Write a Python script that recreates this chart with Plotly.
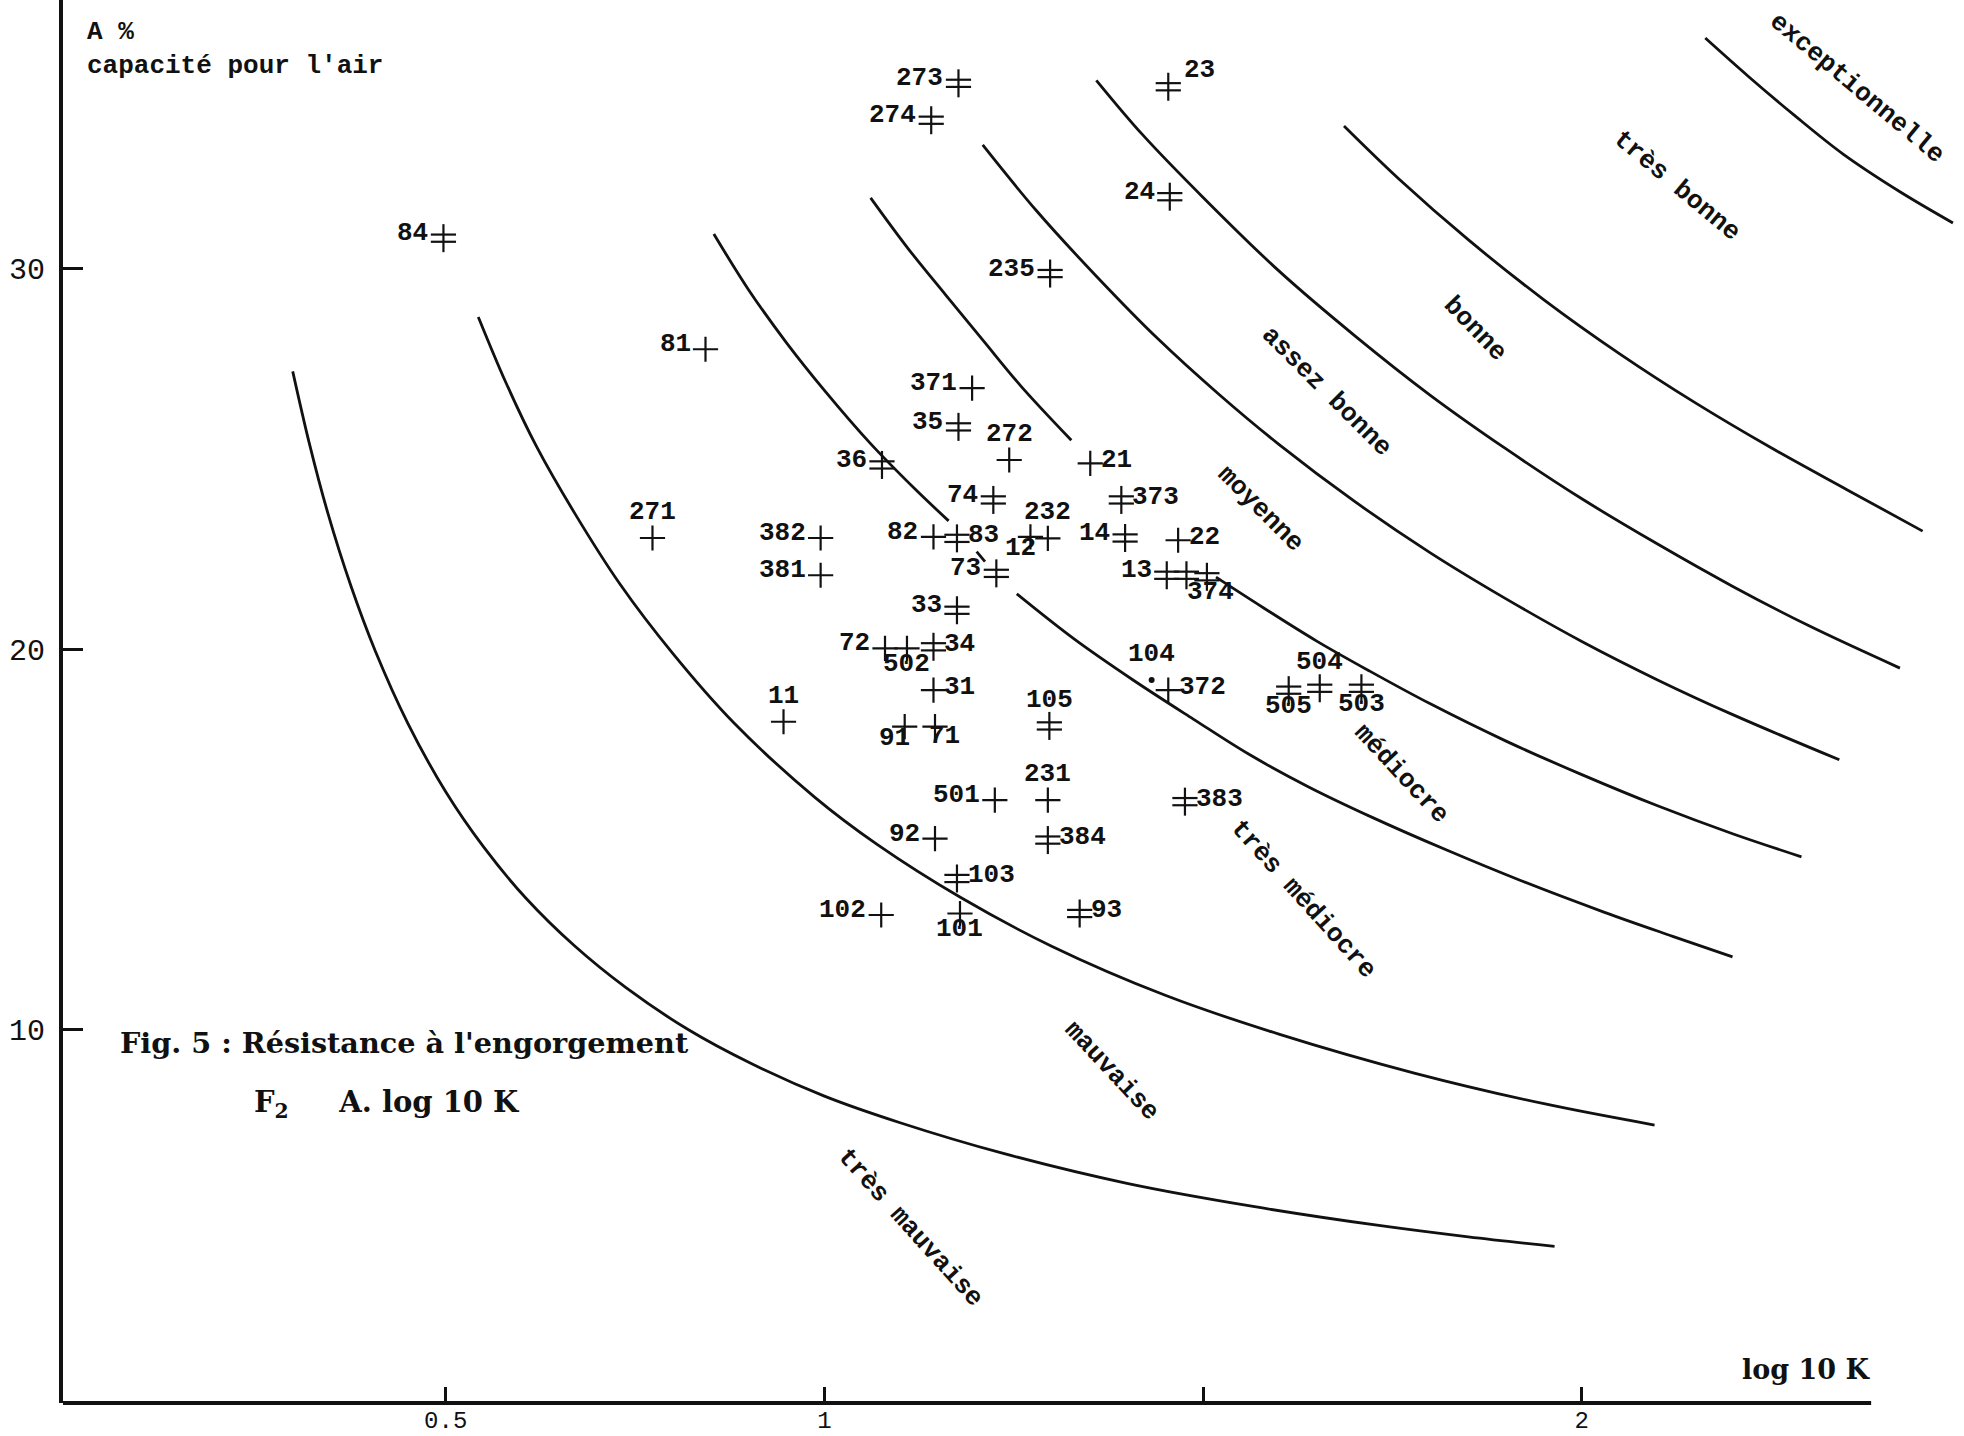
import plotly.graph_objects as go

# ---------------- data ----------------
point_ids = ["273", "274", "23", "24", "84", "235", "81", "371", "35", "272",
             "36", "21", "74", "373", "271", "382", "381", "82", "83", "232",
             "12", "14", "22", "13", "", "374", "73", "33", "72", "502",
             "34", "31", "104", "372", "505", "504", "503", "105", "11", "91",
             "71", "501", "231", "383", "92", "384", "103", "102", "101", "93"]
log10k = [1.177, 1.141, 1.454, 1.456, 0.497, 1.298, 0.843, 1.195, 1.177, 1.244,
          1.076, 1.351, 1.223, 1.392, 0.773, 0.995, 0.995, 1.144, 1.175, 1.295,
          1.272, 1.397, 1.467, 1.452, 1.478, 1.505, 1.227, 1.175, 1.080, 1.109,
          1.144, 1.144, 1.432, 1.454, 1.613, 1.654, 1.709, 1.297, 0.946, 1.106,
          1.146, 1.225, 1.295, 1.476, 1.146, 1.295, 1.175, 1.075, 1.179, 1.337]
a_pct = [34.87, 33.90, 34.78, 31.89, 30.80, 29.87, 27.88, 26.86, 25.84, 24.97,
         24.84, 24.88, 23.92, 23.92, 22.92, 22.92, 21.94, 22.95, 22.91, 22.91,
         22.95, 22.92, 22.86, 21.94, 21.94, 21.90, 21.99, 21.02, 20.02, 20.02,
         20.06, 18.92, 19.19, 18.92, 18.92, 18.97, 18.97, 17.98, 18.09, 17.96,
         17.96, 16.03, 16.03, 15.99, 15.02, 14.98, 13.97, 13.01, 13.05, 13.05]
# d = double-barred cross, s = simple cross, o = dot
marker_kind = ["d", "d", "d", "d", "d", "d", "s", "s", "d", "s",
               "d", "s", "d", "d", "s", "s", "s", "s", "d", "s",
               "s", "d", "s", "d", "d", "d", "d", "d", "s", "s",
               "d", "s", "o", "s", "d", "d", "d", "d", "s", "s",
               "s", "s", "s", "d", "s", "d", "d", "s", "s", "d"]

# iso-lines (A x log10K); None = gap in the drawing
curve_a_x = [0.298, 0.32, 0.344, 0.375, 0.407, 0.45, 0.5, 0.55, 0.606, 0.67, 0.738,
             0.82, 0.904, 1.0, 1.1, 1.235, 1.401, 1.566, 1.732, 1.85, 1.964]
curve_a_y = [27.3, 25.4, 23.6, 21.65, 19.95, 18.05, 16.25, 14.8, 13.45, 12.2, 11.1,
             10.0, 9.1, 8.25, 7.55, 6.75, 5.95, 5.35, 4.85, 4.55, 4.3]
curve_b_x = [0.543, 0.58, 0.62, 0.67, 0.73, 0.8, 0.88, 0.987, 1.07, 1.18, 1.3,
             1.45, 1.6, 1.78, 1.95, 2.096]
curve_b_y = [28.73, 26.98, 25.32, 23.58, 21.71, 19.88, 18.07, 16.11, 14.86, 13.47, 12.19,
             10.9, 9.88, 8.85, 8.05, 7.49]
curve_c_x = [0.854, 0.9, 0.95, 1.0, 1.06, 1.12, 1.164, None, 1.201, 1.212, None,
             1.254, 1.33, 1.408, 1.487, 1.56, 1.64, 1.724, 1.82, 1.92, 2.03, 2.12, 2.199]
curve_c_y = [30.91, 29.44, 28.05, 26.8, 25.42, 24.2, 23.37, None, 22.56, 22.30, None,
             21.45, 20.26, 19.18, 18.16, 17.24, 16.37, 15.57, 14.73, 13.91, 13.08, 12.45, 11.91]
curve_d_x = [1.061, 1.11, 1.16, 1.21, 1.26, 1.326, None,
             1.517, 1.58, 1.65, 1.72, 1.8, 1.9, 2.0, 2.1, 2.2, 2.29]
curve_d_y = [31.86, 30.54, 29.31, 28.1, 26.9, 25.49, None,
             21.89, 21.08, 20.21, 19.42, 18.56, 17.58, 16.7, 15.88, 15.14, 14.54]
curve_e_x = [1.209, 1.28, 1.36, 1.44, 1.52, 1.6, 1.7, 1.8, 1.9, 2.0, 2.1, 2.2, 2.34]
curve_e_y = [33.25, 31.52, 29.78, 28.16, 26.71, 25.38, 23.88, 22.53, 21.32, 20.2, 19.19, 18.27, 17.09]
curve_f_x = [1.359, 1.42, 1.5, 1.6, 1.7, 1.8, 1.9, 2.0, 2.1, 2.2, 2.3, 2.42]
curve_f_y = [34.95, 33.52, 31.87, 29.94, 28.24, 26.67, 25.26, 23.95, 22.76, 21.64, 20.61, 19.5]
curve_g_x = [1.686, 1.76, 1.85, 1.95, 2.05, 2.15, 2.25, 2.35, 2.45]
curve_g_y = [33.75, 32.33, 30.76, 29.18, 27.76, 26.47, 25.29, 24.19, 23.1]
curve_h_x = [2.163, 2.22, 2.28, 2.345, 2.42, 2.49]
curve_h_y = [36.06, 35.05, 34.04, 33.01, 32.02, 31.2]

class_names = ["très mauvaise", "mauvaise", "très médiocre", "médiocre", "moyenne",
               "assez bonne", "bonne", "très bonne", "exceptionnelle"]
class_label_x = [1.114, 1.379, 1.632, 1.762, 1.576, 1.664, 1.859, 2.126, 2.363]
class_label_y = [4.79, 8.90, 13.43, 16.72, 23.68, 26.77, 28.41, 32.18, 34.75]
class_label_angle = [48, 47, 48, 47, 45, 45, 46, 40, 40]

x_tick_vals = [0.5, 1, 2]
x_tick_text = ["0.5", "1", "2"]
x_minor_vals = [1.5]
y_tick_vals = [10, 20, 30]
y_tick_text = ["10", "20", "30"]

# label placement relative to its point
label_place = ["L", "L", "TR", "L", "L", "L", "L", "L", "L", "T",
               "L", "R", "L", "R", "T", "L", "L", "L", "R", "T",
               "BL", "L", "R", "L", "N", "BR2", "L", "L", "L", "B",
               "R", "R", "T", "R", "B", "T", "B", "T", "T", "BL",
               "BR", "L", "T", "R", "L", "R", "R", "L", "B", "R"]

# ---------------- layout constants ----------------
W, H = 1964, 1436
ML, MR, MT, MB = 63, 0, 0, 33
X_RANGE = [-0.0053, 2.5046]
Y_RANGE = [0.184, 37.06]
X_AXIS_END = 2.382
ppu_y = (H - MT - MB) / (Y_RANGE[1] - Y_RANGE[0])
BAR = 3.6 / ppu_y

MONO = "Liberation Mono"
SERIF = "DejaVu Serif"
INK = "#111111"

fig = go.Figure()

for cx, cy in [(curve_a_x, curve_a_y), (curve_b_x, curve_b_y), (curve_c_x, curve_c_y),
               (curve_d_x, curve_d_y), (curve_e_x, curve_e_y), (curve_f_x, curve_f_y),
               (curve_g_x, curve_g_y), (curve_h_x, curve_h_y)]:
    fig.add_trace(go.Scatter(x=cx, y=cy, mode="lines", connectgaps=False,
                             line=dict(color=INK, width=2.8, shape="spline", smoothing=1.0),
                             hoverinfo="skip", showlegend=False))

sx = [x for x, k in zip(log10k, marker_kind) if k == "s"]
sy = [y for y, k in zip(a_pct, marker_kind) if k == "s"]
dx = [x for x, k in zip(log10k, marker_kind) if k == "d"]
dy = [y for y, k in zip(a_pct, marker_kind) if k == "d"]
ox = [x for x, k in zip(log10k, marker_kind) if k == "o"]
oy = [y for y, k in zip(a_pct, marker_kind) if k == "o"]

fig.add_trace(go.Scatter(x=sx, y=sy, mode="markers", showlegend=False,
                         marker=dict(symbol="cross-thin-open", size=18, color=INK,
                                     line=dict(color=INK, width=2.2))))
fig.add_trace(go.Scatter(x=dx, y=dy, mode="markers", showlegend=False,
                         marker=dict(symbol="line-ns-open", size=20, color=INK,
                                     line=dict(color=INK, width=2.2))))
for off in (BAR, -BAR):
    fig.add_trace(go.Scatter(x=dx, y=[v + off for v in dy], mode="markers", showlegend=False,
                             hoverinfo="skip",
                             marker=dict(symbol="line-ew-open", size=18, color=INK,
                                         line=dict(color=INK, width=2.2))))
fig.add_trace(go.Scatter(x=ox, y=oy, mode="markers", showlegend=False,
                         marker=dict(symbol="circle", size=6, color=INK)))

place_style = {
    "L": dict(xanchor="right", yanchor="middle", xshift=-13, yshift=5),
    "R": dict(xanchor="left", yanchor="middle", xshift=9, yshift=3),
    "T": dict(xanchor="center", yanchor="bottom", xshift=0, yshift=9),
    "TR": dict(xanchor="left", yanchor="bottom", xshift=14, yshift=0),
    "B": dict(xanchor="center", yanchor="top", xshift=0, yshift=1),
    "BR2": dict(xanchor="center", yanchor="top", xshift=4, yshift=2),
    "BL": dict(xanchor="center", yanchor="top", xshift=-10, yshift=6),
    "BR": dict(xanchor="left", yanchor="top", xshift=-8, yshift=8),
    "N": dict(xanchor="center", yanchor="middle", xshift=0, yshift=0),
}
annotations = []
for pid, x, y, p in zip(point_ids, log10k, a_pct, label_place):
    if not pid:
        continue
    annotations.append(dict(x=x, y=y, xref="x", yref="y", text="<b>" + pid + "</b>",
                            showarrow=False,
                            font=dict(family=MONO, size=26, color=INK),
                            **place_style[p]))

for name, x, y, ang in zip(class_names, class_label_x, class_label_y, class_label_angle):
    annotations.append(dict(x=x, y=y, xref="x", yref="y", text="<b>" + name + "</b>",
                            showarrow=False,
                            textangle=ang, xanchor="center", yanchor="middle",
                            font=dict(family=MONO, size=26, color=INK)))

annotations += [
    dict(x=85, y=H - 32, xref="paper", yref="paper", text="<b>A %</b>", showarrow=False,
         xanchor="left", yanchor="middle", font=dict(family=MONO, size=26, color=INK)),
    dict(x=85, y=H - 66, xref="paper", yref="paper", text="<b>capacité pour l'air</b>",
         showarrow=False, xanchor="left", yanchor="middle",
         font=dict(family=MONO, size=26, color=INK)),
    dict(x=118, y=H - 1043, xref="paper", yref="paper",
         text="<b>Fig. 5 : Résistance à l'engorgement</b>", showarrow=False,
         xanchor="left", yanchor="middle", font=dict(family=SERIF, size=28.7, color=INK)),
    dict(x=252, y=H - 1104, xref="paper", yref="paper",
         text="<b>F<sub>2</sub>&nbsp;&nbsp;&nbsp;&nbsp;&nbsp;A. log 10 K</b>", showarrow=False,
         xanchor="left", yanchor="middle", font=dict(family=SERIF, size=29, color=INK)),
    dict(x=1740, y=H - 1369, xref="paper", yref="paper", text="<b>log 10 K</b>",
         showarrow=False, xanchor="left", yanchor="middle",
         font=dict(family=SERIF, size=27, color=INK)),
]
# convert pixel-placed paper annotations into paper fractions
for a in annotations:
    if a.get("xref") == "paper":
        a["x"] = (a["x"] - ML) / (W - ML - MR)
        a["y"] = (a["y"] - MB) / (H - MT - MB)

fig.update_layout(
    width=W, height=H, margin=dict(l=ML, r=MR, t=MT, b=MB),
    paper_bgcolor="white", plot_bgcolor="white", showlegend=False,
    annotations=annotations,
    shapes=[dict(type="line", xref="x", yref="paper", x0=X_RANGE[0], x1=X_AXIS_END,
                 y0=0, y1=0, line=dict(color=INK, width=4))],
)
fig.update_xaxes(range=X_RANGE, showgrid=False, zeroline=False, showline=False,
                 tickvals=x_tick_vals, ticktext=x_tick_text, ticks="inside", ticklen=16,
                 tickwidth=2.5, tickcolor=INK,
                 minor=dict(tickvals=x_minor_vals, ticks="inside", ticklen=16,
                            tickwidth=2.5, tickcolor=INK, showgrid=False),
                 tickfont=dict(family=MONO, size=24, color=INK))
fig.update_yaxes(range=Y_RANGE, showgrid=False, zeroline=False, showline=True,
                 linecolor=INK, linewidth=4, mirror=False,
                 tickvals=y_tick_vals, ticktext=y_tick_text, ticks="inside", ticklen=20,
                 tickwidth=2.5, tickcolor=INK, ticklabelstandoff=8,
                 tickfont=dict(family=MONO, size=30, color=INK))

fig.write_html("out.html",
               config={"displayModeBar": False},
               post_script="document.body.style.margin='0';"
                           "document.body.style.padding='0';"
                           "document.body.style.overflow='hidden';")
